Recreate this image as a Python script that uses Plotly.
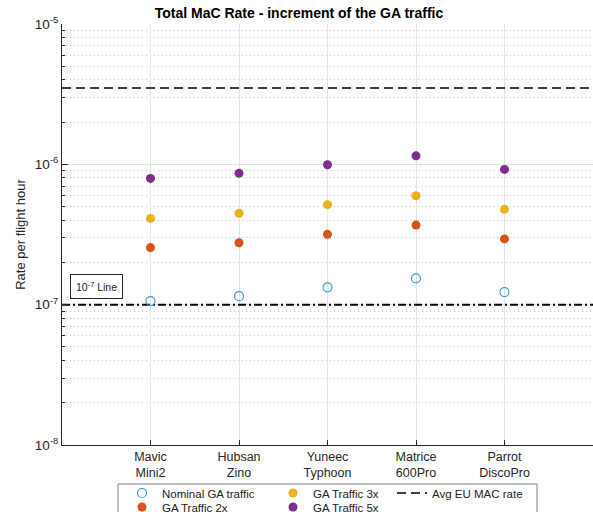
import plotly.graph_objects as go

categories = ["Mavic<br>Mini2", "Hubsan<br>Zino", "Yuneec<br>Typhoon", "Matrice<br>600Pro", "Parrot<br>DiscoPro"]
cat_pos = [1, 2, 3, 4, 5]
nominal = [1.06e-7, 1.15e-7, 1.33e-7, 1.54e-7, 1.23e-7]
traffic_2x = [2.55e-7, 2.76e-7, 3.17e-7, 3.69e-7, 2.94e-7]
traffic_3x = [4.12e-7, 4.48e-7, 5.16e-7, 5.97e-7, 4.78e-7]
traffic_5x = [7.94e-7, 8.63e-7, 9.93e-7, 1.15e-6, 9.2e-7]
avg_eu_mac = 3.5e-6
line_1e7 = 1e-7
x_limits = [0, 6]
y_tickvals = [1e-8, 1e-7, 1e-6, 1e-5]
y_ticktext = ["10<sup>-8</sup>", "10<sup>-7</sup>", "10<sup>-6</sup>", "10<sup>-5</sup>"]
minor_vals = [k * 10.0 ** e for e in (-8, -7, -6) for k in range(2, 10)]

FONT = "Liberation Sans, Arial, Helvetica, sans-serif"
W, H = 593, 512
L, R, T, B = 62, 0, 24, 67
pw, ph = W - L - R, H - T - B

def px_x(px):
    return (px - L) / pw

def px_y(py):
    return (H - B - py) / ph

fig = go.Figure()

fig.add_trace(go.Scatter(x=x_limits, y=[line_1e7, line_1e7], mode="lines",
                         line=dict(color="black", width=2, dash="8px,3px,2px,3px"),
                         showlegend=False, hoverinfo="skip"))
fig.add_trace(go.Scatter(x=x_limits, y=[avg_eu_mac, avg_eu_mac], mode="lines",
                         name="Avg EU MAC rate",
                         line=dict(color="black", width=1.5, dash="9px,5px"),
                         legend="legend5"))
fig.add_trace(go.Scatter(x=cat_pos, y=nominal, mode="markers", name="Nominal GA traffic",
                         marker=dict(symbol="circle-open", size=9, color="#3d9ad8", line=dict(width=1.2)),
                         legend="legend"))
fig.add_trace(go.Scatter(x=cat_pos, y=traffic_2x, mode="markers", name="GA Traffic 2x",
                         marker=dict(symbol="circle", size=9, color="#D95319"),
                         legend="legend2"))
fig.add_trace(go.Scatter(x=cat_pos, y=traffic_3x, mode="markers", name="GA Traffic 3x",
                         marker=dict(symbol="circle", size=9, color="#EDB120"),
                         legend="legend3"))
fig.add_trace(go.Scatter(x=cat_pos, y=traffic_5x, mode="markers", name="GA Traffic 5x",
                         marker=dict(symbol="circle", size=9, color="#7E2F8E"),
                         legend="legend4"))

leg_common = dict(bgcolor="rgba(0,0,0,0)", borderwidth=0, font=dict(family=FONT, size=11.5, color="#222"),
                  xanchor="left", yanchor="middle", itemclick=False, itemdoubleclick=False,
                  tracegroupgap=0)
row1, row2 = px_y(493), px_y(507)
col1, col2, col3 = px_x(122), px_x(273), px_x(392)

fig.update_layout(
    width=W, height=H,
    margin=dict(l=L, r=R, t=T, b=B, autoexpand=False),
    paper_bgcolor="white", plot_bgcolor="white",
    font=dict(family=FONT, size=12, color="#262626"),
    title=dict(text="<b>Total MaC Rate - increment of the GA traffic</b>",
               x=299 / W, xref="container", xanchor="center",
               y=1 - 13 / H, yref="container", yanchor="middle",
               font=dict(family=FONT, size=14, color="black")),
    xaxis=dict(range=x_limits, tickvals=cat_pos, ticktext=categories,
               showgrid=True, gridcolor="#e3e3e3", gridwidth=1,
               showline=True, linecolor="#262626", linewidth=1,
               ticks="inside", ticklen=5, tickcolor="#262626",
               tickfont=dict(family=FONT, size=12.5, color="#262626"),
               zeroline=False, mirror=False),
    yaxis=dict(type="log", range=[-8, -5], tickvals=y_tickvals, ticktext=y_ticktext,
               showgrid=True, gridcolor="#e0e0e0", gridwidth=1,
               showline=True, linecolor="#262626", linewidth=1,
               ticks="inside", ticklen=6, tickcolor="#262626",
               tickfont=dict(family=FONT, size=13.5, color="#262626"),
               title=dict(text="Rate per flight hour", font=dict(family=FONT, size=13, color="#262626"),
                          standoff=6),
               minor=dict(tickvals=minor_vals, showgrid=True, gridcolor="#c4c4c4",
                          griddash="1px,3px", gridwidth=1, ticks="inside", ticklen=3,
                          tickcolor="#262626"),
               zeroline=False),
    legend=dict(x=col1, y=row1, **leg_common),
    legend2=dict(x=col1, y=row2, **leg_common),
    legend3=dict(x=col2, y=row1, **leg_common),
    legend4=dict(x=col2, y=row2, **leg_common),
    legend5=dict(x=col3, y=row1, **leg_common),
    shapes=[dict(type="rect", xref="paper", yref="paper",
                 x0=px_x(118), x1=px_x(537), y0=px_y(520), y1=px_y(484),
                 line=dict(color="#7f7f7f", width=1), fillcolor="white", layer="below")],
    annotations=[dict(text="10<sup>-7</sup> Line", xref="paper", yref="paper",
                      x=px_x(96.5), y=px_y(286), xanchor="center", yanchor="middle",
                      showarrow=False, bordercolor="#262626", borderwidth=1, borderpad=5,
                      bgcolor="white", font=dict(family=FONT, size=10.5, color="#262626"))],
)

fig.write_html("out.html")
